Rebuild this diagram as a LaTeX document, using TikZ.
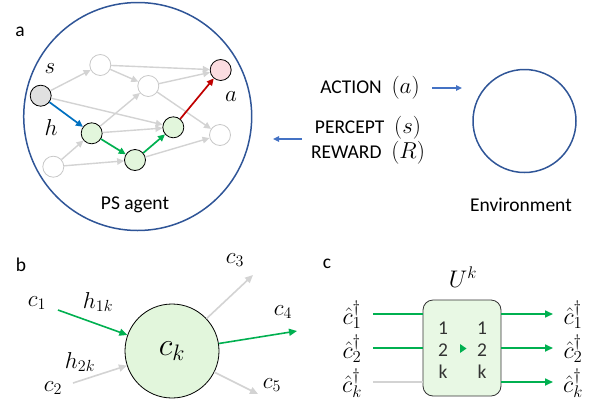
\RequirePackage{fix-cm}
\documentclass[tikz,border=0pt]{standalone}
\usepackage{fontspec}
\setmainfont{Carlito}
\usetikzlibrary{arrows.meta}
\definecolor{dblue}{HTML}{2F5597}
\definecolor{lblue}{HTML}{4472C4}
\definecolor{sblue}{HTML}{0070C0}
\definecolor{ggreen}{HTML}{00B050}
\definecolor{gfill}{HTML}{E2F6DC}
\definecolor{rfill}{HTML}{FBDCE0}
\definecolor{dred}{HTML}{C00000}
\definecolor{lgray}{HTML}{D3D3D3}
\definecolor{sfill}{HTML}{E0E0E0}
\definecolor{wline}{HTML}{C8C8C8}
\definecolor{boxfill}{HTML}{E8F8E4}
\newcommand\msz{\fontsize{23}{27}\selectfont}
\newcommand\hsz{\fontsize{24}{28}\selectfont}
\begin{document}
\begin{tikzpicture}[x=1pt,y=-1pt,
  font=\fontsize{19.5}{23}\selectfont,
  nd/.style={circle,minimum size=21pt,inner sep=0pt,line width=0.8pt},
  wnode/.style={nd,draw=wline,fill=white},
  snode/.style={nd,draw=black,fill=sfill},
  gnode/.style={nd,draw=black,fill=gfill},
  rnode/.style={nd,draw=black,fill=rfill},
  gedge/.style={draw=lgray,line width=1.4pt,-{Triangle[length=7pt,width=6.5pt]}},
  cedge/.style={line width=1.7pt,-{Triangle[length=7pt,width=6.5pt]}},
  barrow/.style={draw=lblue,line width=1.5pt,-{Triangle[length=6pt,width=5.5pt]}},
  big/.style={circle,draw=dblue,line width=1.5pt,inner sep=0pt},
  lbl/.style={inner sep=0pt,anchor=center},
  mlbl/.style={inner sep=0pt,anchor=center,font=\msz},
  hlbl/.style={inner sep=0pt,anchor=center,font=\hsz},
  c3edge/.style={line width=1.6pt,-{Triangle[length=8pt,width=7pt]}},
]
\useasboundingbox (0,0) rectangle (597,405);

% ---------------- panel a ----------------
\node[lbl] (la) at (20,32) {a};
\node[big,minimum size=228pt] (agent) at (137.7,116.5) {};
\node[lbl] (psagent) at (135,205) {PS agent};

\node[snode] (s) at (40.7,95.7) {};
\node[wnode] (t1) at (100.3,65) {};
\node[wnode] (m) at (148.3,86) {};
\node[rnode] (r) at (220.7,70) {};
\node[gnode] (h) at (91.7,133.3) {};
\node[gnode] (gb) at (135,160) {};
\node[gnode] (gr) at (173.3,127.3) {};
\node[wnode] (wr) at (220,135) {};
\node[wnode] (bl) at (53.3,166.7) {};

\node[mlbl] (slab) at (50,69) {$s$};
\node[mlbl] (hlab) at (51,128) {$h$};
\node[mlbl] (alab) at (231,97) {$a$};

\draw[gedge] (s) -- (t1);
\draw[gedge] (s) -- (gr);
\draw[gedge] (t1) -- (r);
\draw[gedge] (t1) -- (m);
\draw[gedge] (m) -- (r);
\draw[gedge] (m) -- (wr);
\draw[gedge] (h) -- (m);
\draw[gedge] (h) -- (gr);
\draw[gedge] (bl) -- (h);
\draw[gedge] (bl) -- (gb);
\draw[gedge] (gb) -- (wr);

\draw[cedge,sblue] (s) -- (h);
\draw[cedge,ggreen] (h) -- (gb);
\draw[cedge,ggreen] (gb) -- (gr);
\draw[cedge,dred] (gr) -- (r);

\node[lbl] (action) at (370,88) {ACTION\enspace{\msz$(a)$}};
\node[lbl] (percept) at (368,128) {PERCEPT\enspace{\msz$(s)$}};
\node[lbl] (reward) at (368,153) {REWARD\enspace{\msz$(R)$}};
\coordinate (a1) at (432,88);
\coordinate (a2) at (462,88);
\coordinate (p1) at (302,139);
\coordinate (p2) at (273,139);
\draw[barrow] (a1) -- (a2);
\draw[barrow] (p1) -- (p2);

\node[big,minimum size=103pt] (env) at (524.5,121) {};
\node[lbl] (envlab) at (521,205) {Environment};

% ---------------- panel b ----------------
\node[lbl] (lb) at (21,265) {b};
\node[circle,draw=black,line width=0.8pt,fill=gfill,minimum size=94pt,inner sep=0pt] (ck) at (172,351) {\fontsize{32}{35}\selectfont$c_k$};
\coordinate (b1) at (58,310);
\coordinate (b2) at (73,383);
\coordinate (b3) at (253,275);
\coordinate (b4) at (297,331);
\coordinate (b5) at (258,394);
\draw[c3edge,ggreen] (b1) -- (ck);
\draw[c3edge,lgray] (b2) -- (ck);
\draw[c3edge,lgray] (ck) -- (b3);
\draw[c3edge,ggreen] (ck) -- (b4);
\draw[c3edge,lgray] (ck) -- (b5);
\node[mlbl] (c1) at (37,303) {$c_1$};
\node[mlbl] (h1k) at (98,302) {$h_{1k}$};
\node[mlbl] (h2k) at (80,362) {$h_{2k}$};
\node[mlbl] (c2) at (53,388) {$c_2$};
\node[mlbl] (c3) at (235,260) {$c_3$};
\node[mlbl] (c4) at (283,312) {$c_4$};
\node[mlbl] (c5) at (272,385) {$c_5$};

% ---------------- panel c ----------------
\node[lbl] (lc) at (327,264) {c};
\node[hlbl] (uk) at (463,277) {$U^k$};
\node[draw=black!80,line width=0.8pt,fill=boxfill,rounded corners=10pt,minimum width=78pt,minimum height=96pt,inner sep=0pt] (box) at (462,348) {};
\coordinate (i1) at (373,314);
\coordinate (i2) at (373,348);
\coordinate (i3) at (373,382);
\coordinate (j1) at (423,314);
\coordinate (j2) at (423,348);
\coordinate (j3) at (423,382);
\coordinate (k1) at (501,314);
\coordinate (k2) at (501,348);
\coordinate (k3) at (501,382);
\coordinate (o1) at (553,314);
\coordinate (o2) at (553,348);
\coordinate (o3) at (553,382);
\draw[ggreen,line width=1.6pt] (i1) -- (j1);
\draw[ggreen,line width=1.6pt] (i2) -- (j2);
\draw[lgray,line width=1.6pt] (i3) -- (j3);
\draw[ggreen,c3edge] (k1) -- (o1);
\draw[ggreen,c3edge] (k2) -- (o2);
\draw[ggreen,c3edge] (k3) -- (o3);
\node[hlbl] (ci1) at (352,315) {$\hat c_1^\dagger$};
\node[hlbl] (ci2) at (352,349) {$\hat c_2^\dagger$};
\node[hlbl] (ci3) at (352,383) {$\hat c_k^\dagger$};
\node[hlbl] (co1) at (573,315) {$\hat c_1^\dagger$};
\node[hlbl] (co2) at (573,349) {$\hat c_2^\dagger$};
\node[hlbl] (co3) at (573,383) {$\hat c_k^\dagger$};
\node[lbl,text=black!80] (n1l) at (443,328) {1};
\node[lbl,text=black!80] (n2l) at (443,350) {2};
\node[lbl,text=black!80] (n3l) at (443,372) {k};
\node[lbl,text=black!80] (n1r) at (482,328) {1};
\node[lbl,text=black!80] (n2r) at (482,350) {2};
\node[lbl,text=black!80] (n3r) at (482,372) {k};
\fill[ggreen] (460,344) -- (466.5,348.5) -- (460,353) -- cycle;
\end{tikzpicture}
\end{document}
